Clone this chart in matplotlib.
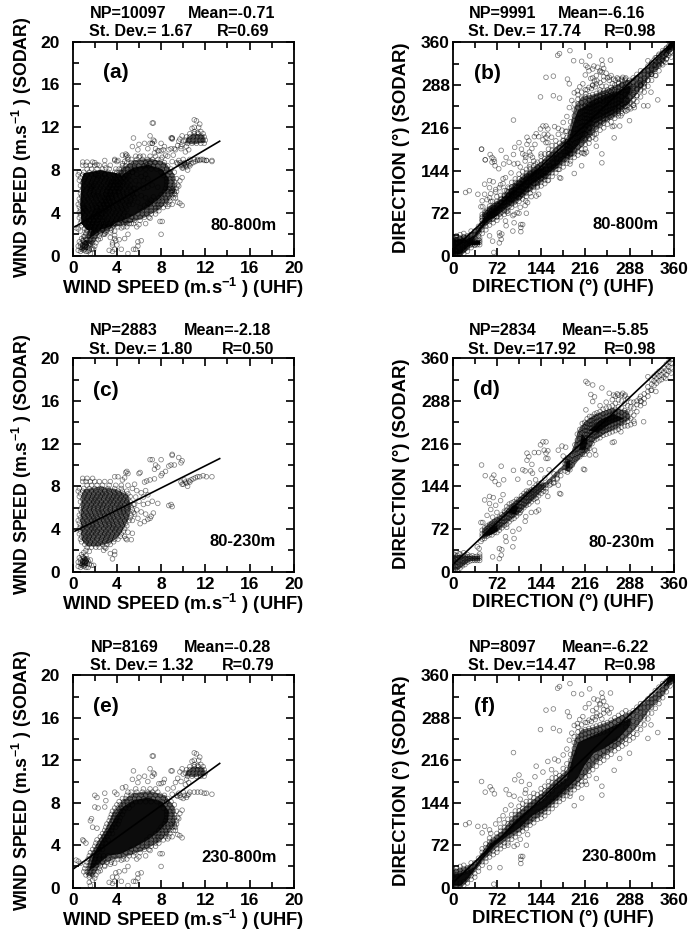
'''
Scatter comparison of SODAR and UHF wind speed and direction, three height ranges.
Panels (a) and (b) hold all heights, so they are drawn from the two layers below them.
'''
import numpy as np
import matplotlib
matplotlib.use('Agg')
import matplotlib.pyplot as plt
from matplotlib.ticker import MultipleLocator

plt.rcParams['font.family'] = ['Liberation Sans', 'DejaVu Sans']
plt.rcParams['font.weight'] = 'bold'
plt.rcParams['mathtext.fontset'] = 'custom'
plt.rcParams['mathtext.rm'] = 'Liberation Sans:bold'
plt.rcParams['mathtext.default'] = 'rm'

W, H = 693., 936.

# wind speed, 80-230m: single points read around the cloud
speed_low = [
    (7.0,10.5),(7.2,10.5),(8.0,10.5),(7.5,10.0),(7.4,9.6),(7.7,9.8),(8.1,9.2),(8.0,9.0),(8.4,9.4),(8.7,9.9),
    (8.9,10.0),(9.2,10.0),(9.0,11.0),(9.0,10.9),(9.6,10.7),(9.9,10.4),(9.8,10.2),(7.0,8.6),(7.4,8.7),(6.7,8.5),
    (6.5,8.4),(6.1,9.3),(6.0,9.2),(4.8,9.3),(5.0,9.2),(4.9,9.4),(3.8,8.9),(4.1,8.9),(4.5,8.6),(4.7,8.8),
    (9.8,8.4),(10.0,8.2),(10.1,8.6),(10.3,8.3),(10.4,8.0),(10.5,8.5),(10.7,8.6),(10.9,8.7),(11.1,8.8),(11.3,8.9),
    (11.5,8.9),(11.8,9.0),(12.1,8.9),(12.6,8.9),(10.2,8.4),(10.6,8.4),(9.9,8.2),(8.7,6.2),(9.0,6.1),(8.9,6.3),
    (7.7,6.4),(7.2,6.6),(7.1,5.2),(7.3,5.5),(7.0,5.0),(6.8,4.9),(6.5,4.7),(6.1,4.5),(5.4,3.6),(5.0,3.7),
    (4.7,3.3),(5.3,3.0),(4.8,3.1),(4.9,3.0),(3.8,1.9),(3.4,1.7),(3.8,1.6),(3.6,1.2),(3.0,2.2),(2.8,2.0),
    (5.4,7.8),(5.8,7.6),(6.2,7.4),(6.6,7.6),(5.6,8.2),(6.4,7.0),(6.8,7.2),(5.7,7.0),(6.0,6.6),(6.4,6.3),
    (6.8,6.4),(5.6,6.3),(5.8,5.8),(6.2,5.6),(6.6,5.4),(5.6,5.4),(5.9,5.0),(5.4,4.8),(0.8,1.6),(0.6,1.3),
    (0.9,1.4),(1.2,1.5),(0.5,0.9),(0.7,0.8),(0.9,0.7),(1.1,0.9),(1.3,0.8),(1.5,0.7),(1.7,0.6),(0.5,0.5),
    (0.7,0.4),(1.0,0.5),(1.2,0.4),(1.4,0.4),(1.1,1.2),(1.3,1.2),(0.9,1.0),(0.7,1.1),(1.6,1.1),(1.0,1.8),
    (1.2,2.0),(1.5,1.9),(1.9,0.6),(1.1,0.6),(0.9,0.9),(1.2,1.0),(1.0,1.3),(0.8,0.6),(1.4,1.0),
]
# rows through the 80-230m cloud, sodar speed: uhf speeds
speed_low_rows = {
    2.3: [1.3,1.7,2.1,2.4,2.9], 2.55: [1.1,1.5,1.9,2.3,2.7,3.1,3.4], 2.8: [0.8,1.2,1.6,2.0,2.5,2.9,3.3,3.7],
    3.05: [0.7,1.1,1.4,1.8,2.2,2.6,3.0,3.4,3.8,4.1], 3.3: [0.8,1.2,1.5,1.9,2.3,2.7,3.1,3.5,3.9,4.3],
    3.55: [0.6,1.0,1.4,1.7,2.1,2.5,2.9,3.2,3.6,4.0,4.4], 3.8: [0.7,1.1,1.5,1.9,2.2,2.6,3.0,3.4,3.8,4.2,4.6],
    4.05: [0.6,0.9,1.3,1.7,2.0,2.4,2.8,3.2,3.6,3.9,4.3,4.7], 4.3: [0.7,1.1,1.5,1.8,2.2,2.6,3.0,3.3,3.7,4.1,4.5,4.9],
    4.55: [0.6,1.0,1.4,1.8,2.1,2.5,2.9,3.3,3.6,4.0,4.4,4.8], 4.8: [0.5,0.9,1.3,1.7,2.0,2.4,2.8,3.1,3.5,3.9,4.3,4.7,5.1],
    5.05: [0.7,1.1,1.5,1.9,2.2,2.6,3.0,3.4,3.7,4.1,4.5,4.9,5.2], 5.3: [0.6,1.0,1.4,1.7,2.1,2.5,2.9,3.2,3.6,4.0,4.4,4.8,5.3],
    5.55: [0.8,1.2,1.6,2.0,2.4,2.7,3.1,3.5,3.9,4.3,4.6,5.0,5.5], 5.8: [0.7,1.1,1.5,1.9,2.3,2.6,3.0,3.4,3.8,4.2,4.6,4.9,5.4],
    6.05: [0.8,1.2,1.6,1.9,2.3,2.7,3.1,3.4,3.8,4.2,4.5,4.9,5.3], 6.3: [0.9,1.3,1.7,2.1,2.5,2.8,3.2,3.6,4.0,4.3,4.7,5.1,5.5],
    6.55: [0.7,1.1,1.5,1.9,2.2,2.6,3.0,3.4,3.7,4.1,4.5,4.9,5.2], 6.8: [0.9,1.3,1.7,2.0,2.4,2.8,3.2,3.5,3.9,4.3,4.6,5.0],
    7.05: [0.6,1.0,1.4,1.8,2.2,2.5,2.9,3.3,3.7,4.0,4.4,4.8,5.2], 7.3: [0.7,1.1,1.5,1.9,2.3,2.7,3.0,3.4,3.8,4.2,4.6,5.0],
    7.55: [0.5,0.9,1.3,1.7,2.1,2.5,2.9,3.3,3.7,4.1,4.5,4.9], 7.8: [0.6,1.0,1.5,2.0,2.6,3.2,3.8,4.4],
    8.1: [1.3,1.7,2.2,2.7,3.3,3.9,4.4,5.0], 8.45: [0.9,1.2,1.6,2.0,2.4,2.9,3.4], 8.75: [0.9,1.3,1.8],
}

# wind speed, 230-800m
speed_high = [
    (2.0,8.7),(2.2,8.5),(2.9,8.9),(3.0,8.2),(2.9,7.6),(2.0,7.6),(2.3,7.5),(1.7,6.5),(1.6,6.3),(1.8,5.7),
    (2.2,5.6),(0.9,4.5),(1.0,4.4),(1.2,4.2),(0.3,2.6),(0.5,2.5),(0.7,2.3),(1.5,1.0),(7.3,12.4),(7.2,12.4),
    (7.0,11.2),(7.3,10.8),(7.4,10.7),(7.2,10.5),(5.5,11.0),(5.4,10.2),(6.0,10.4),(6.5,10.5),(5.9,9.9),(4.8,9.5),
    (4.5,9.4),(5.0,9.0),(4.0,8.8),(3.8,9.0),(8.3,10.2),(8.2,9.9),(8.0,9.8),(11.0,12.7),(11.2,12.6),(11.4,12.0),
    (11.0,12.0),(11.0,11.6),(10.8,11.9),(9.0,11.0),(8.9,11.0),(9.9,11.2),(9.7,10.9),(10.0,10.7),(10.3,10.2),(10.5,9.9),
    (10.2,9.7),(9.8,10.0),(9.5,10.3),(9.3,9.9),(9.1,9.4),(9.5,8.6),(9.8,8.5),(10.0,8.4),(10.0,9.0),(9.6,8.9),
    (10.3,8.5),(10.5,8.8),(10.6,9.0),(11.0,9.0),(11.3,9.0),(11.6,9.0),(11.9,8.9),(12.1,8.9),(12.6,8.8),(11.3,11.5),
    (11.6,11.6),(11.5,12.3),(9.9,4.7),(9.7,4.9),(9.5,5.0),(9.3,5.4),(9.2,5.8),(9.4,6.0),(9.7,7.0),(9.9,7.3),
    (9.6,6.5),(9.0,4.8),(8.6,4.6),(8.1,3.2),(7.9,3.2),(8.0,2.0),(6.2,1.4),(5.9,1.3),(5.9,0.9),(5.7,0.6),
    (5.5,0.6),(5.0,0.2),(4.4,0.6),(3.8,0.6),(3.3,0.5),(3.6,0.4),(3.6,1.0),(4.0,1.0),(3.9,1.4),(4.2,1.5),
    (4.7,1.6),(5.0,2.0),(5.8,2.7),(6.0,2.9),(6.6,3.0),(7.0,3.5),(1.6,0.2),(1.5,0.5),(2.0,0.9),(1.8,0.7),
    (2.5,1.6),(2.9,2.0),(3.4,2.2),(3.8,2.3),(4.4,2.6),(4.9,2.7),(6.8,10.0),(7.8,9.8),(8.6,9.3),(9.0,8.8),
]
speed_high_rows = {
    1.2: [1.2,1.5,1.8,2.1], 1.5: [1.0,1.3,1.6,1.9,2.3], 1.8: [1.1,1.4,1.7,2.0,2.4], 2.1: [1.2,1.5,1.8,2.1,2.5,2.9],
    2.4: [1.3,1.6,1.9,2.3,2.7,3.1,3.5], 2.7: [1.4,1.7,2.0,2.4,2.8,3.2,3.6,4.1,4.6],
    3.0: [1.5,1.8,2.1,2.4,2.8,3.2,3.7,4.2,4.6,5.1,5.5], 3.3: [1.6,1.9,2.2,4.8,5.2,5.6,6.1],
    3.6: [1.8,2.1,2.4,2.7,5.3,5.7,6.1,6.5,6.9], 3.9: [2.0,2.3,2.6,5.9,6.3,6.7,7.1,7.5],
    4.2: [2.1,2.4,2.7,3.0,6.3,6.7,7.1,7.5,7.8], 4.5: [2.2,2.6,2.9,3.2,6.7,7.1,7.5,7.8,8.2],
    4.8: [2.5,2.8,3.1,7.0,7.4,7.7,8.0,8.4,8.7], 5.1: [2.7,3.0,3.3,3.6,7.5,7.8,8.1,8.5,8.8],
    5.4: [2.9,3.2,3.5,7.8,8.1,8.4,8.8,9.1], 5.7: [3.0,3.3,3.6,3.9,8.0,8.3,8.6,9.0,9.3],
    6.0: [3.1,3.4,3.8,4.1,8.3,8.6,8.9,9.2], 6.3: [3.3,3.6,3.9,4.2,8.4,8.8,9.1,9.4],
    6.6: [3.4,3.7,4.0,4.3,8.5,8.8,9.2,9.5], 6.9: [3.5,3.8,4.1,4.5,8.5,8.9,9.2],
    7.2: [3.6,3.9,4.3,4.6,8.5,8.8,9.1,9.4], 7.5: [3.8,4.1,4.4,4.8,5.1,8.2,8.6,9.0],
    7.8: [4.0,4.3,4.6,5.0,5.4,8.0,8.4,8.8,9.2], 8.1: [4.2,4.6,4.9,5.3,5.7,6.1,6.6,7.1,7.6,8.1,8.5,8.9],
    8.4: [4.5,4.8,5.2,5.6,6.0,6.4,6.9,7.3,7.7,8.2,8.6], 8.7: [4.9,5.3,5.7,6.2,6.6,7.0,7.5,7.9,8.3,9.4,9.7,10.1,10.4],
    9.0: [5.3,5.8,6.3,6.8,7.2,7.7], 9.3: [5.7,6.4,7.0,7.5],
    10.5: [10.4,10.8,11.2,11.6,11.9], 10.8: [10.2,10.5,10.9,11.2,11.5,11.8,12.0],
    11.1: [10.3,10.6,10.9,11.3,11.6,11.9], 11.4: [10.6,11.0,11.4,11.8],
}

# direction, 80-230m
dir_low = [
    (47,180),(79,178),(53,162),(67,163),(64,158),(75,147),(83,155),(69,152),(99,171),(114,172),
    (118,170),(106,156),(127,170),(130,166),(121,188),(124,194),(121,200),(133,201),(140,201),(129,181),
    (144,172),(149,205),(152,219),(147,219),(143,214),(155,204),(152,200),(157,172),(155,191),(152,191),
    (174,132),(176,131),(152,135),(155,127),(138,118),(136,101),(140,104),(119,93),(60,127),(52,121),
    (86,59),(100,56),(98,42),(87,51),(76,39),(80,37),(76,22),(79,28),(65,25),(43,39),
    (40,42),(46,51),(46,83),(49,83),(217,321),(220,318),(228,315),(243,310),(225,299),(231,295),
    (217,273),(228,287),(213,173),(215,172),(233,197),(231,205),(223,197),(263,219),(260,218),(274,236),
    (296,250),(311,253),(307,287),(304,292),(323,306),(331,304),(318,329),(347,326),(356,335),(255,301),
    (277,301),(262,298),(268,300),(281,298),(184,210),(178,212),(172,205),(180,195),(165,165),(170,158),
    (160,148),(165,150),(172,146),(150,158),(145,150),(135,155),(125,150),(78,120),(70,112),(62,105),
    (56,95),(65,92),(88,75),(98,68),(108,72),(118,85),(128,100),(110,100),(85,100),(72,100),
    (60,115),(66,125),(82,130),(10,30),(18,32),(3,18),(1,30),(44,30),
]
# columns through the 80-230m cloud, uhf direction: sodar directions
dir_low_cols = {
    0: [2,8,14,20,26], 4: [4,10,16,22,28], 8: [3,9,15,21,27], 12: [6,12,18,24,30], 16: [10,15,20,26], 20: [12,17,22,27],
    24: [16,20,25,29], 28: [18,22,26], 32: [19,23,27], 36: [19,22,25], 40: [19,22,26], 44: [19,23,26],
    48: [55,60,64,70], 52: [56,60,65,70,74], 56: [60,64,68,73,77], 60: [62,66,70,75,80], 64: [62,68,72,77,82],
    68: [66,70,75,80,85], 72: [66,72,76,82,88], 76: [70,75,80,86,92], 80: [74,79,84,90,96], 84: [78,84,90,96,102],
    88: [80,86,92,98,104,110], 92: [84,90,96,102,108,114], 96: [88,94,100,105,110,116], 100: [90,96,102,107,112,118],
    104: [94,100,105,110,116,122], 108: [98,104,110,116,122], 112: [104,110,116,122,128], 116: [108,114,120,126,132],
    120: [112,118,124,130,136], 124: [114,120,125,130,136], 128: [118,124,128,133,138], 132: [122,127,132,137,142],
    136: [124,130,135,140,146], 140: [128,134,138,143,148], 144: [132,138,142,147], 148: [136,142,146], 152: [140,146],
    158: [146,152], 164: [150,156], 170: [156,164], 176: [162,170], 183: [170,176,182,188], 187: [168,174,180,186,192],
    191: [172,178,184,190], 195: [180,188,196], 199: [190,198,206,214], 203: [192,200,207,214,222,232],
    207: [194,202,210,217,224,232,240], 211: [198,205,212,219,226,234,242,250], 215: [198,206,214,220,226,232,238,244,252],
    219: [204,212,220,226,232,238,244,250,258], 223: [208,216,224,230,236,242,248,254,262],
    227: [216,224,231,237,243,249,255,262], 231: [222,228,234,240,246,252,258,266], 235: [224,230,236,242,248,254,260,268],
    240: [226,232,238,244,250,256,262,270,280], 245: [230,236,242,248,254,260,266,274],
    250: [232,238,244,250,256,262,268,276,286], 255: [234,240,246,252,258,264,270,278],
    260: [236,242,248,254,260,266,272,280,290], 265: [238,244,250,256,262,268,274,284,296],
    270: [240,246,252,258,264,270,278,290,298], 275: [244,250,256,262,268,276,288,298], 280: [246,252,258,264,272,284,296],
    285: [246,254,262,270,280,292], 290: [248,258,268,278,286], 295: [254,264,276,286], 300: [270,282,288],
    306: [280,288,296], 312: [284,292,300], 318: [296,304,312], 324: [306,316,324], 328: [314,322,330], 332: [318,326,334],
    336: [322,330,338], 340: [324,332,340], 344: [328,336,344], 348: [332,340,350], 352: [338,346,354], 356: [344,352,358],
}

# direction, 230-800m
dir_high = [
    (191,346),(174,341),(171,338),(223,337),(197,329),(210,328),(243,330),(257,330),(152,301),(164,303),
    (143,268),(164,270),(174,266),(187,298),(190,290),(99,229),(47,180),(53,162),(61,171),(64,166),
    (68,159),(21,107),(27,110),(41,104),(48,93),(52,104),(60,98),(60,34),(77,34),(67,6),
    (111,53),(114,53),(111,48),(111,41),(105,73),(243,157),(263,199),(198,139),(191,155),(210,152),
    (136,206),(155,214),(166,218),(108,191),(101,183),(87,166),(92,158),(100,155),(112,180),(119,166),
    (334,263),(318,253),(323,276),(312,290),(288,228),(272,219),(216,305),(222,312),(230,320),(236,318),
    (244,322),(240,310),(228,300),(235,295),(246,302),(250,308),(255,296),(232,285),(243,286),(226,282),
    (219,280),(207,285),(203,278),(212,290),(198,275),(194,262),(190,250),(186,235),(180,225),(172,215),
    (161,200),(147,196),(134,188),(125,175),(118,160),(110,150),(95,140),(86,132),(82,122),(76,115),
    (70,108),(62,92),(90,72),(100,70),(110,82),(122,90),(120,72),(243,172),(234,185),(218,175),
]
dir_high_cols = {
    0: [3,10,20,26,32], 6: [2,8,22,28,34], 12: [2,8,24,30,36], 18: [4,10,26,32,38], 24: [8,14,28,34], 30: [14,20,30,36,42],
    36: [18,24,36,42], 42: [28,34,44,50], 48: [38,44,54,60,66], 54: [44,50,62,68,74], 60: [52,58,72,78,84], 66: [56,62,76,82],
    72: [60,66,80,86,92], 78: [66,72,84,90,96,102], 84: [70,76,90,96,102,110], 90: [76,82,96,102,108,116],
    96: [82,88,104,110,116,124], 102: [86,92,112,118,124,130], 108: [92,98,118,124,130,138], 114: [96,102,108,122,128,134,142],
    120: [100,106,112,128,134,140,146], 126: [106,112,118,134,140,146,154], 132: [110,116,122,140,146,152,160],
    138: [116,122,128,144,150,158], 144: [118,124,130,148,154,160,168], 150: [122,128,134,152,158,164,172],
    156: [128,134,140,158,164,172,180], 162: [134,140,146,164,170,178,186], 168: [140,146,152,172,178,186,194],
    174: [146,152,158,176,182,190], 180: [150,156,164,180,186,194,202], 186: [156,162,170,186,192,200,210],
    192: [160,166,172,200,208,216,226], 198: [166,172,178,228,236,246,256], 204: [170,176,184,250,256,264,272],
    210: [174,180,188,196,252,258,266,276], 216: [180,188,196,206,254,260,268,280], 222: [190,198,208,216,256,262,270,284],
    228: [200,208,218,258,264,272,288], 234: [206,214,222,260,266,274,290,304], 240: [212,220,228,262,268,276,292,312],
    246: [216,224,232,264,270,278,296,316], 252: [222,230,238,266,272,280,300], 258: [226,234,242,268,276,284,304],
    264: [232,240,248,272,280,288], 270: [236,244,252,276,284,292], 276: [240,248,256,280,288,296],
    282: [244,252,262,272,284,292,300], 288: [250,258,268,278,288,296], 294: [254,262,272,282,292,300],
    300: [260,270,280,290,300,306], 306: [268,278,288,298,304,312], 312: [276,286,296,306,312], 318: [286,296,306,314,320],
    324: [296,306,314,320,326], 330: [304,314,322,328,334], 336: [312,320,328,334,340], 342: [322,330,336,342,346],
    348: [332,340,346,350], 354: [342,348,352,358], 358: [350,354,358],
}

# outline of each cloud, where the circles overlap to a dark grey
speed_low_env = [(0.8,3.0),(0.7,5.0),(0.8,7.0),(1.0,7.7),(2.5,8.0),(4.0,7.7),(5.0,7.2),(5.3,6.0),(5.0,4.8),(4.4,3.6),(3.6,2.8),(2.4,2.4),(1.3,2.4)]
speed_low_blob = [(0.7,0.5),(1.3,0.5),(1.5,1.0),(1.2,1.5),(0.8,1.2)]
speed_high_env = [(1.2,1.2),(1.5,2.8),(2.2,4.2),(3.0,5.6),(3.6,7.0),(4.5,8.2),(5.5,8.9),(7.0,9.1),(8.4,8.7),(9.2,7.6),(9.3,6.0),(8.6,5.0),(7.8,4.3),(6.6,3.6),(5.0,3.0),(3.5,2.6),(2.4,2.0),(1.8,1.0)]
speed_high_arm = [(10.2,10.5),(11.0,10.4),(12.0,10.6),(11.9,11.3),(10.9,11.4),(10.3,11.0)]
dir_low_env = [(48,70),(60,84),(84,100),(100,118),(120,136),(140,148),(150,150),(180,180),(183,190),(195,205),(204,238),(214,252),(232,266),(260,276),(285,272),(290,258),(270,244),(250,234),(232,222),(222,204),(208,192),(190,168),(180,172),(150,142),(130,120),(110,100),(90,84),(70,66),(50,56)]
dir_low_strip = [(0,2),(0,28),(12,28),(24,27),(45,26),(45,19),(28,18),(18,10),(8,2)]
dir_high_env = [(0,30),(18,34),(36,42),(48,60),(60,80),(80,96),(100,122),(120,140),(145,160),(168,184),(186,200),(192,222),(198,250),(210,268),(228,272),(250,280),(270,290),(290,298),(310,312),(330,330),(345,346),(360,360),(360,350),(340,322),(320,300),(300,272),(285,255),(270,240),(250,226),(234,212),(216,190),(200,172),(186,160),(168,146),(150,128),(130,112),(110,96),(90,82),(70,66),(50,46),(34,24),(24,10),(14,0),(0,0)]

# inner parts of each cloud, where the circles merge to solid black
speed_low_core = [(1.9,3.2),(1.5,4.5),(2.0,5.6),(2.5,6.9),(3.9,7.0),(4.5,6.0),(3.8,5.2),(3.8,4.1),(3.0,3.2)]
speed_high_core = [(1.5,1.6),(1.9,3.2),(2.7,4.6),(3.5,6.0),(4.3,7.4),(5.4,8.2),(6.8,8.5),(8.1,8.1),(8.7,7.2),(8.6,6.2),(7.8,5.3),(6.8,4.5),(5.6,3.8),(4.4,3.2),(3.2,3.0),(2.3,2.2)]
dir_low_cores = [
    [(52,60),(60,74),(72,78),(74,70),(62,62)],
    [(90,100),(98,112),(108,110),(102,96)],
    [(118,126),(132,142),(144,144),(138,130),(124,120)],
    [(184,172),(185,186),(191,188),(191,176)],
    [(206,206),(210,232),(220,222),(216,204)],
    [(222,238),(240,256),(262,266),(280,258),(258,250),(236,234)],
]
dir_high_core = [(0,4),(0,22),(18,26),(34,34),(48,54),(60,74),(80,88),(100,112),(120,130),(145,148),(168,172),(186,186),(196,222),(204,246),(224,256),(250,268),(270,278),(290,288),(290,276),(268,250),(250,238),(230,228),(214,206),(204,186),(190,172),(170,152),(150,134),(130,122),(110,102),(90,88),(70,72),(50,50),(34,28),(24,14),(12,3)]
dir_top_corner = [(344,340),(352,358),(360,360),(360,352)]

# fit lines, end points
fit_x = {'a': [0.2, 13.3], 'b': [0, 360], 'c': [0.2, 13.3], 'd': [0, 360], 'e': [0.1, 13.3], 'f': [0, 360]}
fit_y = {'a': [2.7, 10.7], 'b': [10, 362], 'c': [3.8, 10.6], 'd': [12, 364], 'e': [1.8, 11.7], 'f': [8, 364]}

labels = ['a', 'b', 'c', 'd', 'e', 'f']
ranges = ['80-800m', '80-800m', '80-230m', '80-230m', '230-800m', '230-800m']
np_text = ['NP=10097', 'NP=9991', 'NP=2883', 'NP=2834', 'NP=8169', 'NP=8097']
mean_text = ['Mean=-0.71', 'Mean=-6.16', 'Mean=-2.18', 'Mean=-5.85', 'Mean=-0.28', 'Mean=-6.22']
std_text = ['St. Dev.= 1.67', 'St. Dev.= 17.74', 'St. Dev.= 1.80', 'St. Dev.=17.92', 'St. Dev.= 1.32', 'St. Dev.=14.47']
r_text = ['R=0.69', 'R=0.98', 'R=0.50', 'R=0.98', 'R=0.79', 'R=0.98']

# axes boxes in pixels: left, top, right, bottom
boxes = {'a': (72.7, 41.7, 293.7, 255.7), 'b': (452.7, 42.3, 673.7, 256),
         'c': (72.7, 358.3, 293.7, 571.7), 'd': (452.7, 358.3, 673.7, 571.7),
         'e': (72.7, 675.3, 293.7, 887.7), 'f': (452.7, 675.3, 673.7, 887.7)}
# panel letter and height range, in axes fractions
letter_pos = {'a': (.196, .854), 'b': (.155, .855), 'c': (.151, .851), 'd': (.151, .856), 'e': (.151, .855), 'f': (.146, .853)}
range_pos = {'a': (.771, .143), 'b': (.78, .147), 'c': (.771, .141), 'd': (.765, .138), 'e': (.753, .141), 'f': (.754, .145)}
# header text, in pixels: NP x, Mean x, St. Dev. x, R x, line 1 y, line 2 y
head_pos = {'a': (90, 188, 89, 217, 13, 31), 'b': (469, 558, 468, 604, 13, 32),
            'c': (90, 184, 89, 222, 330, 349), 'd': (469, 562, 468, 604, 330, 349),
            'e': (91, 184, 90, 222, 647, 666), 'f': (469, 562, 468, 604, 647, 666)}


def from_rows(rows):
    return [(x, y) for y, xs in rows.items() for x in xs]


def from_cols(cols):
    return [(x, y) for x, ys in cols.items() for y in ys]


speed_low_all = speed_low + from_rows(speed_low_rows)
speed_high_all = speed_high + from_rows(speed_high_rows)
dir_low_all = dir_low + from_cols(dir_low_cols)
dir_high_all = dir_high + from_cols(dir_high_cols)

points = {'a': speed_low_all + speed_high_all, 'b': dir_low_all + dir_high_all,
          'c': speed_low_all, 'd': dir_low_all, 'e': speed_high_all, 'f': dir_high_all}
envs = {'a': [speed_low_env, speed_low_blob, speed_high_env, speed_high_arm],
        'b': [dir_low_env, dir_high_env],
        'c': [speed_low_env, speed_low_blob],
        'd': [dir_low_env, dir_low_strip],
        'e': [speed_high_env, speed_high_arm],
        'f': [dir_high_env]}
cores = {'a': [speed_low_core, speed_low_env, speed_high_core],
         'b': dir_low_cores + [dir_low_strip, dir_high_core, dir_top_corner],
         'c': [],
         'd': dir_low_cores[:2] + dir_low_cores[3:],
         'e': [speed_high_core],
         'f': [dir_high_core, dir_top_corner]}


def ptext(fig, x, y, s, **kw):
    fig.text(x / W, 1 - y / H, s, **kw)


fig = plt.figure(figsize=(W / 100, H / 100), dpi=100)

for i, lab in enumerate(labels):
    l, t, r, b = boxes[lab]
    ax = fig.add_axes([l / W, 1 - b / H, (r - l) / W, (b - t) / H])
    speed = lab in 'ace'
    top = 20 if speed else 360
    major, minor = (4, 2) if speed else (72, 36)

    for poly in envs[lab]:
        ax.fill(*np.array(poly).T, color='k', alpha=0.62, lw=0, zorder=1)
    for poly in cores[lab]:
        ax.fill(*np.array(poly).T, color='#0c0c0c', lw=0, zorder=1)
    px, py = np.array(points[lab]).T
    ax.scatter(px, py, s=11, facecolors='none', edgecolors='k', linewidths=0.55, alpha=0.5, zorder=2)
    ax.plot(fit_x[lab], fit_y[lab], color='k', lw=1.2, zorder=3)

    ax.set_xlim(0, top)
    ax.set_ylim(0, top)
    ax.xaxis.set_major_locator(MultipleLocator(major))
    ax.yaxis.set_major_locator(MultipleLocator(major))
    ax.xaxis.set_minor_locator(MultipleLocator(minor))
    ax.yaxis.set_minor_locator(MultipleLocator(minor))
    ax.tick_params(which='major', direction='in', top=True, right=True, length=5.5, width=1.2, labelsize=12.5)
    ax.tick_params(which='minor', direction='in', top=True, right=True, length=4, width=1.2)
    ax.tick_params(axis='x', which='major', pad=4)
    ax.tick_params(axis='y', which='major', pad=9 if speed else 2)
    for s in ax.spines.values():
        s.set_linewidth(1.3)

    cx = (l + r) / 2
    cy = (t + b) / 2
    if speed:
        ptext(fig, cx, b + 32, 'WIND SPEED (m.s$^{-1}$ ) (UHF)', ha='center', va='center', fontsize=13.2)
        ptext(fig, l - 50.7, cy - 1, 'WIND SPEED (m.s$^{-1}$ ) (SODAR)', ha='center', va='center', rotation=90, fontsize=12.8)
    else:
        ptext(fig, cx, b + 31, 'DIRECTION (°) (UHF)', ha='center', va='center', fontsize=13.3)
        ptext(fig, l - 51.7, cy - 1, 'DIRECTION (°) (SODAR)', ha='center', va='center', rotation=90, fontsize=13.3)

    ax.text(*letter_pos[lab], '(%s)' % lab, transform=ax.transAxes, ha='center', va='center', fontsize=15)
    ax.text(*range_pos[lab], ranges[i], transform=ax.transAxes, ha='center', va='center', fontsize=12)

    x1, x2, x3, x4, y1, y2 = head_pos[lab]
    ptext(fig, x1, y1, np_text[i], va='center', fontsize=11.6)
    ptext(fig, x2, y1, mean_text[i], va='center', fontsize=11.6)
    ptext(fig, x3, y2, std_text[i], va='center', fontsize=11.6)
    ptext(fig, x4, y2, r_text[i], va='center', fontsize=11.6)

fig.savefig('out.png', dpi=100)
